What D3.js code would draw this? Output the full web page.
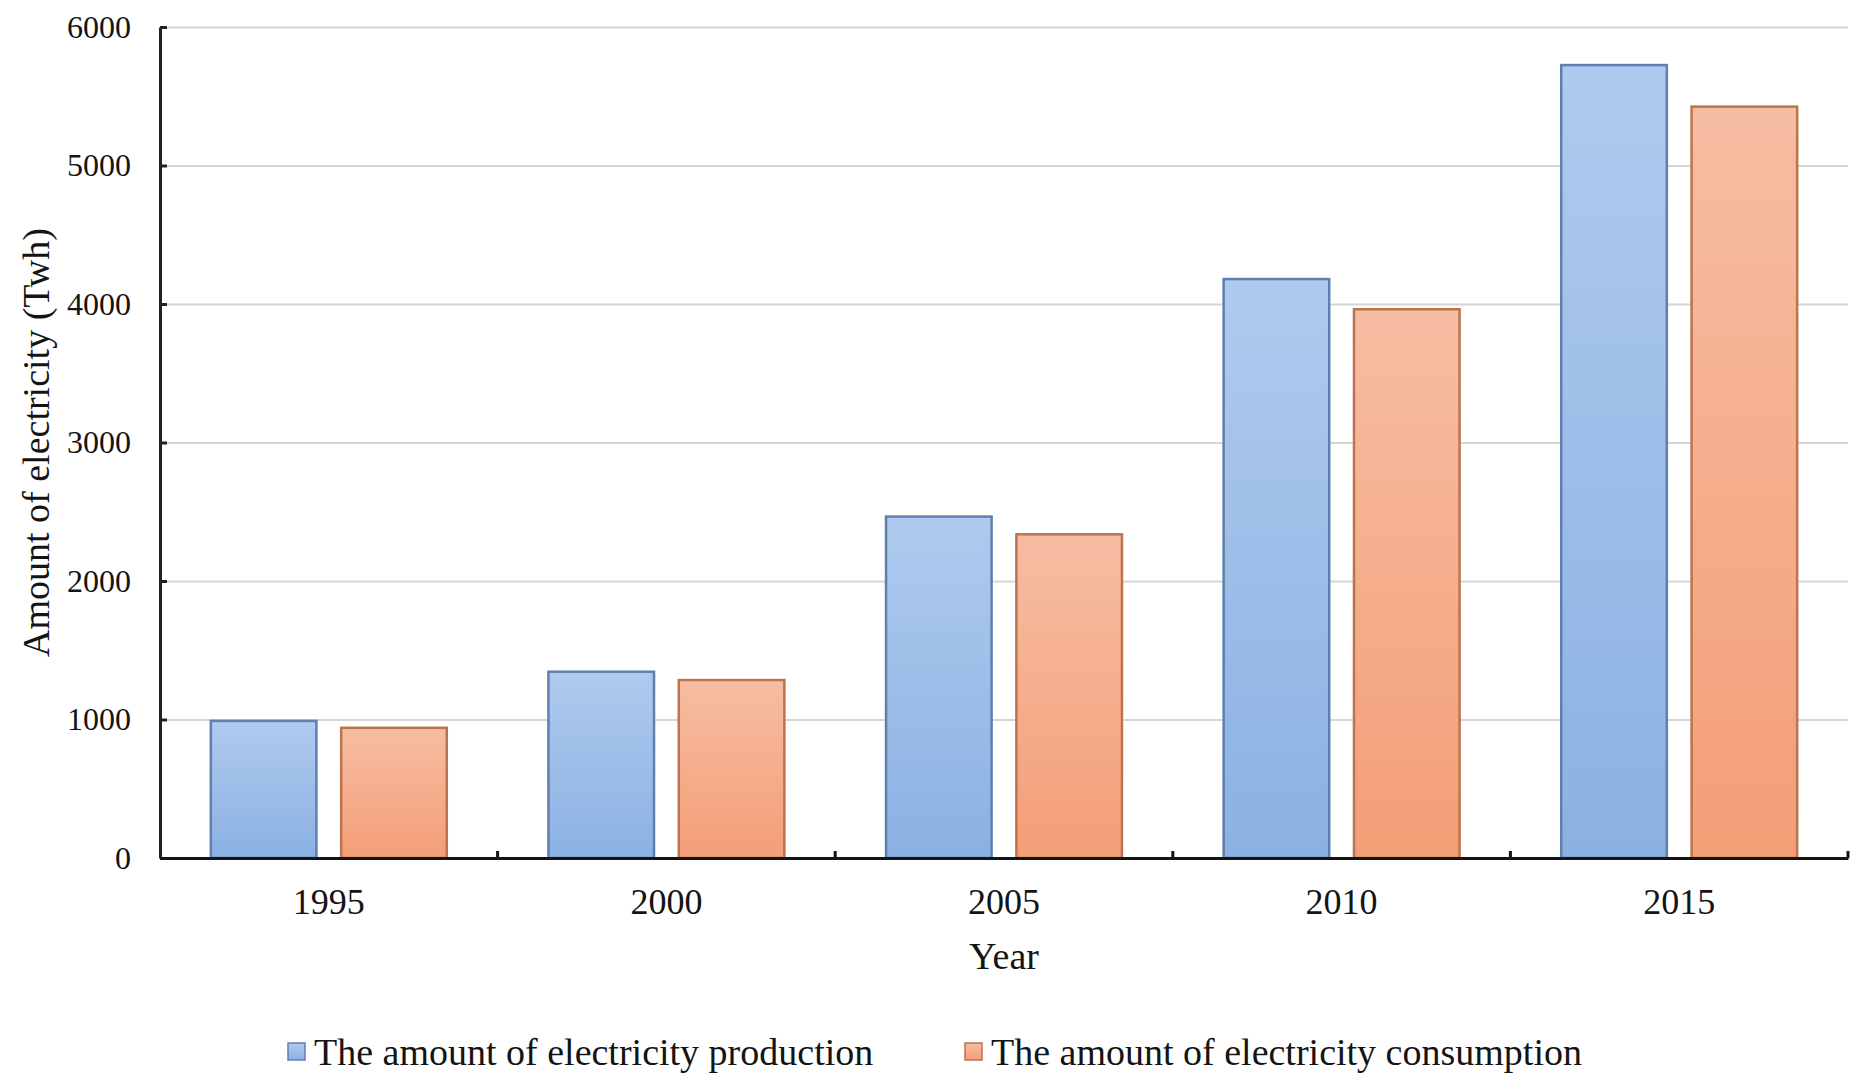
<!DOCTYPE html>
<html>
<head>
<meta charset="utf-8">
<script src="https://cdn.jsdelivr.net/npm/d3@7"></script>
<style>
  html, body { margin: 0; padding: 0; background: #ffffff; }
  svg { display: block; }
  text { font-family: "Liberation Serif", "Times New Roman", serif; fill: #141414; }
</style>
</head>
<body>
<svg id="chart" width="1851" height="1075"></svg>
<script>
// Electricity production and consumption, 1995–2015 (TWh)
const years = ["1995", "2000", "2005", "2010", "2015"];
const seriesKeys = ["production", "consumption"];
const seriesNames = ["The amount of electricity production", "The amount of electricity consumption"];
const production = [990, 1345, 2465, 4180, 5725];
const consumption = [940, 1285, 2337, 3962, 5425];
const yTicks = [0, 1000, 2000, 3000, 4000, 5000, 6000];

const rows = years.map((y, i) => ({ year: y, production: production[i], consumption: consumption[i] }));

const svg = d3.select("#chart");
const margin = { left: 160, right: 3, top: 27, bottom: 217 };
const W = 1851, H = 1075;
const plotW = W - margin.left - margin.right;
const plotH = H - margin.top - margin.bottom;

const x0 = d3.scaleBand().domain(years).range([0, plotW]).padding(0);
const x1 = d3.scaleBand().domain(seriesKeys).range([0, x0.bandwidth()])
  .paddingInner(0.19).paddingOuter(0.39);
const y = d3.scaleLinear().domain([0, 6000]).range([plotH, 0]);

// gradients for the bars
const defs = svg.append("defs");
const fills = {
  production: { top: "#afcaee", bottom: "#8bb1e3", stroke: "#5f80ae" },
  consumption: { top: "#f6bda2", bottom: "#f49e77", stroke: "#bb744d" }
};
seriesKeys.forEach(k => {
  const g = defs.append("linearGradient").attr("id", "grad-" + k)
    .attr("x1", 0).attr("y1", 0).attr("x2", 0).attr("y2", 1);
  g.append("stop").attr("offset", "0%").attr("stop-color", fills[k].top);
  g.append("stop").attr("offset", "100%").attr("stop-color", fills[k].bottom);
});

const g = svg.append("g").attr("transform", `translate(${margin.left},${margin.top})`);

// horizontal gridlines
g.append("g").attr("class", "grid")
  .call(d3.axisLeft(y).tickValues(yTicks.filter(v => v > 0)).tickSize(-plotW).tickFormat(""))
  .call(s => s.select(".domain").remove())
  .call(s => s.selectAll("line").attr("stroke", "#d6d6d6").attr("stroke-width", 2));

// bars
const groups = g.append("g").selectAll("g").data(rows).join("g")
  .attr("transform", d => `translate(${x0(d.year)},0)`);
groups.selectAll("rect")
  .data(d => seriesKeys.map(k => ({ key: k, value: d[k] })))
  .join("rect")
  .attr("x", d => x1(d.key))
  .attr("y", d => y(d.value))
  .attr("width", x1.bandwidth())
  .attr("height", d => y(0) - y(d.value))
  .attr("fill", d => `url(#grad-${d.key})`)
  .attr("stroke", d => fills[d.key].stroke)
  .attr("stroke-width", 2.5);

// y axis: inward ticks, labels on the left
g.append("g")
  .call(d3.axisLeft(y).tickValues(yTicks).tickSizeInner(-7).tickSizeOuter(0).tickPadding(29).tickFormat(d3.format("d")))
  .call(s => s.select(".domain").attr("stroke", "#222").attr("stroke-width", 3))
  .call(s => s.selectAll(".tick line").attr("stroke", "#222").attr("stroke-width", 3))
  .call(s => s.selectAll(".tick text").style("font-size", "32px").attr("fill", "#141414")
    .style("font-family", "'Liberation Serif', serif"));

// x axis: category labels centred, ticks on category boundaries
g.append("g").attr("transform", `translate(0,${plotH})`)
  .call(d3.axisBottom(x0).tickSize(0).tickPadding(30))
  .call(s => s.select(".domain").attr("stroke", "#141414").attr("stroke-width", 3))
  .call(s => s.selectAll(".tick text").style("font-size", "36px").attr("fill", "#141414")
    .style("font-family", "'Liberation Serif', serif"));

const bounds = years.map(d => x0(d)).concat([x0.range()[1]]).slice(1);
g.append("g").selectAll("line").data(bounds).join("line")
  .attr("x1", d => d).attr("x2", d => d)
  .attr("y1", plotH).attr("y2", plotH - 7)
  .attr("stroke", "#141414").attr("stroke-width", 3);

// axis titles
g.append("text")
  .attr("x", plotW / 2).attr("y", plotH + 111)
  .attr("text-anchor", "middle")
  .style("font-size", "38px")
  .text("Year");

svg.append("text")
  .attr("transform", `translate(49,${margin.top + plotH / 2}) rotate(-90)`)
  .attr("text-anchor", "middle")
  .style("font-size", "38px")
  .text("Amount of electricity (Twh)");

// legend
const legendX = [288, 965];
const legend = svg.append("g").selectAll("g").data(seriesKeys).join("g")
  .attr("transform", (d, i) => `translate(${legendX[i]},1052)`);
legend.append("rect")
  .attr("x", 0).attr("y", -9).attr("width", 17).attr("height", 17)
  .attr("fill", d => `url(#grad-${d})`)
  .attr("stroke", d => fills[d].stroke).attr("stroke-width", 1.5);
legend.append("text")
  .attr("x", 26).attr("y", 0).attr("dy", "0.35em")
  .style("font-size", "38px")
  .text((d, i) => seriesNames[i]);
</script>
</body>
</html>
